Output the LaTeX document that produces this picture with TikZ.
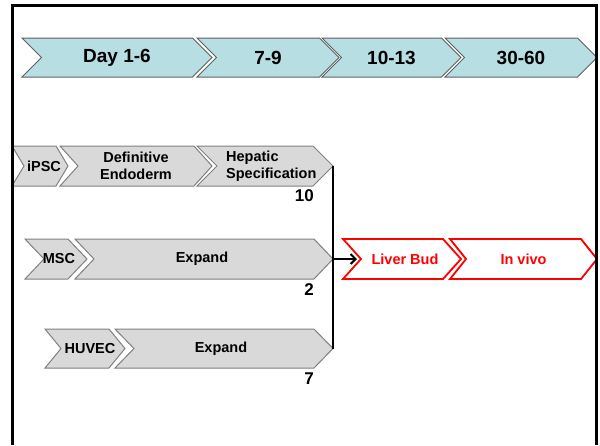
\documentclass[tikz,border=0pt]{standalone}
\usepackage{fontspec}
\setmainfont{Liberation Sans}
\usepackage{tikz}
\usetikzlibrary{arrows.meta}

\definecolor{daycyan}{RGB}{183,222,227}
\definecolor{dayline}{RGB}{96,96,96}
\definecolor{cellgray}{RGB}{217,217,217}
\definecolor{cellline}{RGB}{128,128,128}
\definecolor{budred}{RGB}{255,0,0}

% chevron outline: style, left, tip, mid y, half height, depth
\newcommand{\chevpath}[6]{%
    \draw[#1] (#2,#4-#5) -- (#3-#6,#4-#5) -- (#3,#4) -- (#3-#6,#4+#5)
        -- (#2,#4+#5) -- (#2+#6,#4) -- cycle;
}

\begin{document}
\begin{tikzpicture}
    [ x=1pt, y=-1pt,
        daytxt/.style={font=\bfseries\fontsize{19}{21}\selectfont},
        celltxt/.style={font=\bfseries\fontsize{14.5}{16.5}\selectfont, align=center},
        budtxt/.style={celltxt, text=budred},
        numtxt/.style={font=\bfseries\fontsize{17}{19}\selectfont, anchor=east, inner sep=0pt},
        dayshape/.style={fill=daycyan, draw=dayline, line width=1pt},
        cellshape/.style={fill=cellgray, draw=cellline, line width=1pt},
        budshape/.style={fill=white, draw=budred, line width=1.8pt},
    ]

    \useasboundingbox (0,0) rectangle (600,445);

    % time line
    \chevpath{dayshape}{22}{212}{57.5}{19.5}{19.5}
    \chevpath{dayshape}{197}{339}{57.5}{19.5}{19.5}
    \chevpath{dayshape}{322}{461}{57.5}{19.5}{19.5}
    \chevpath{dayshape}{445}{597}{57.5}{19.5}{19.5}

    \node [daytxt] (day16) at (117,57.5) {Day 1-6};
    \node [daytxt] (d79) at (268,57.5) {7-9};
    \node [daytxt] (d1013) at (391.5,57.5) {10-13};
    \node [daytxt] (d3060) at (521,57.5) {30-60};

    % iPSC row
    \chevpath{cellshape}{12}{68}{166}{20}{12}
    \chevpath{cellshape}{60}{212}{166}{20}{18}
    \chevpath{cellshape}{197}{333}{166}{20}{20}

    \node [celltxt] (ipsc) at (44,166) {iPSC};
    \node [celltxt] (defend) at (136,166) {Definitive\\Endoderm};
    \node
        [ celltxt,
            align=left,
            anchor=west,
            inner sep=0pt,
        ] (hepspec) at (226,166) {Hepatic\\Specification};
    \node [numtxt] (n10) at (314,196) {10};

    % MSC row
    \chevpath{cellshape}{25}{87}{259}{20}{19}
    \chevpath{cellshape}{75}{333}{259}{20}{19}

    \node [celltxt] (msc) at (59,259) {MSC};
    \node [celltxt] (mscexp) at (202,259) {Expand};
    \node [numtxt] (n2) at (314,290) {2};

    % HUVEC row
    \chevpath{cellshape}{45}{125}{348.5}{19.5}{16}
    \chevpath{cellshape}{115}{333}{348.5}{19.5}{19}

    \node [celltxt] (huvec) at (90,348.5) {HUVEC};
    \node [celltxt] (huvexp) at (221,348.5) {Expand};
    \node [numtxt] (n7) at (314,379) {7};

    % liver bud
    \chevpath{budshape}{343}{461}{259}{20}{18}
    \chevpath{budshape}{450}{597}{259}{20}{16}

    \node [budtxt] (bud) at (405,259) {Liver Bud};
    \node [budtxt] (invivo) at (523.5,259) {In vivo};

    % joining the three rows
    \coordinate (heptip) at (333,166);
    \coordinate (mscjoin) at (333,259);
    \coordinate (huvtip) at (333,348.5);
    \coordinate (budin) at (357,259);

    \draw [line width=2.5pt] (heptip) -- (huvtip);
    \draw [line width=2pt, -{Straight Barb[length=5pt,width=10pt]}] (mscjoin) -- (budin);

    % frame
    \draw [line width=3pt] (12,445) -- (12,5) -- (596.5,5) -- (596.5,445);

\end{tikzpicture}
\end{document}
